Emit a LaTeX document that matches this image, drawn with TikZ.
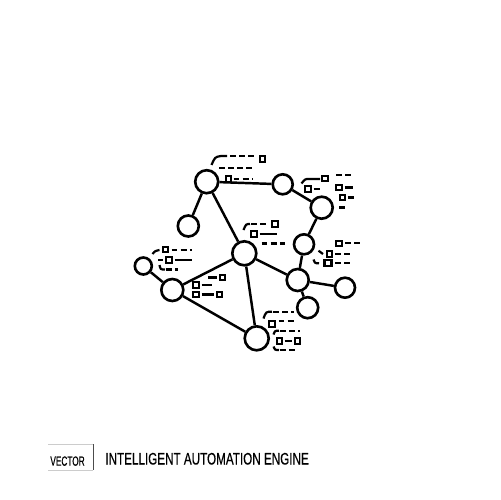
\documentclass[tikz,border=0pt]{standalone}
\usepackage{fontspec}
\usepackage{tikz}
\usetikzlibrary{positioning}
\newfontfamily\titlefont[FakeStretch=0.7,FakeBold=0.4]{Liberation Sans}
\newfontfamily\vecfont[FakeStretch=0.62,FakeBold=0.4]{Liberation Sans}
\tikzset{
  hub/.style= {
    circle,
    draw,
    fill = white,
    line width = 1.5pt,
    inner sep = 0pt,
    minimum size = #1
  },
  hub/.default = 0.44cm,
  link/.style= {
    line width = 1.4pt
  },
  tagline/.style= {
    line width = 1.25pt
  },
  tagdash/.style= {
    tagline,
    dash pattern = on 3.4pt off 1.8pt
  },
  tagsq/.pic = {
    \draw[line width=1.2pt] (-2.6,-2.6) rectangle (2.6,2.6);
  }
}

\begin{document}
\begin{tikzpicture}[x=0.02cm,y=-0.02cm]
  \useasboundingbox (0,0) rectangle (500,500);

  \node[hub=0.46cm] (a) at (206.7,181.7) {};
  \node[hub=0.42cm] (b) at (188.3,226) {};
  \node[hub=0.40cm] (c) at (282.7,184.3) {};
  \node[hub=0.44cm] (d) at (321.7,207.7) {};
  \node[hub=0.40cm] (e) at (304,244.3) {};
  \node[hub=0.48cm] (f) at (244.3,253.3) {};
  \node[hub=0.34cm] (g) at (143.3,266) {};
  \node[hub=0.44cm] (h) at (172.3,290) {};
  \node[hub=0.44cm] (i) at (297.7,280) {};
  \node[hub=0.40cm] (j) at (345,287.7) {};
  \node[hub=0.42cm] (k) at (307.7,307.7) {};
  \node[hub=0.48cm] (l) at (256.7,338.3) {};

  \draw[link] (a) -- (b);
  \draw[link] (a) -- (c);
  \draw[link] (c) -- (d);
  \draw[link] (d) -- (e);
  \draw[link] (e) -- (i);
  \draw[link] (a) -- (f);
  \draw[link] (f) -- (h);
  \draw[link] (f) -- (l);
  \draw[link] (f) -- (i);
  \draw[link] (g) -- (h);
  \draw[link] (h) -- (l);
  \draw[link] (i) -- (j);
  \draw[link] (i) -- (k);

  % tags near a
  \draw[tagline] (211.5,165) .. controls (215,157) .. (221,156) -- (227,156);
  \draw[tagdash] (230,156) -- (257,156);
  \pic at (262.5,159) {tagsq};
  \draw[tagdash] (219,168) -- (253,168);
  \pic at (228.5,179) {tagsq};
  \draw[tagdash] (233.5,179) -- (253,179);

  % tags near c and d
  \draw[tagline] (301.5,183.5) .. controls (305,179) .. (309,179) -- (320,179);
  \pic at (325,178.5) {tagsq};
  \draw[tagdash] (336,175) -- (354,175);
  \pic at (308,189) {tagsq};
  \draw[tagline] (313.5,189) -- (320,189);
  \pic at (339,187.5) {tagsq};
  \draw[tagline] (344.5,187.5) -- (353,187.5);
  \pic at (342.5,197.5) {tagsq};
  \draw[tagline] (348,197.5) -- (354,197.5);
  \draw[tagline] (339,207.5) -- (345,207.5);

  % tags near g
  \draw[tagline] (152.5,254) .. controls (155,251) .. (159.5,250);
  \pic at (165.5,249.7) {tagsq};
  \draw[tagdash] (171.5,249.7) -- (191.5,249.7);
  \draw[tagline] (158,260) -- (162.5,260);
  \pic at (169,260) {tagsq};
  \draw[tagline] (174.5,260) -- (192,260);
  \draw[tagline] (159.5,265) .. controls (160.5,269.5) .. (165,269.5);
  \draw[tagdash] (166,269.5) -- (178,269.5);

  % tags between h and f
  \draw[tagline] (208,277.5) -- (216.5,277.5);
  \pic at (222.5,277.5) {tagsq};
  \pic at (196,285) {tagsq};
  \draw[tagline] (201.5,285) -- (211.5,285);
  \pic at (196,294.5) {tagsq};
  \draw[tagline] (201.5,294.5) -- (213.5,294.5);
  \pic at (219.5,294.5) {tagsq};

  % tags near f
  \draw[tagline] (243.5,230) .. controls (246,224) .. (250,224);
  \draw[tagdash] (251,224) -- (269,224);
  \pic at (275,224) {tagsq};
  \pic at (254,234) {tagsq};
  \draw[tagline] (259.5,234) -- (276.5,234);
  \draw[tagdash] (261.5,243.5) -- (285,243.5);

  % tags near e
  \pic at (339,243.3) {tagsq};
  \draw[tagdash] (345,243.3) -- (363,243.3);
  \draw[tagline] (318.5,250.7) -- (323,254);
  \pic at (329.5,254) {tagsq};
  \draw[tagdash] (335,254) -- (352,254);
  \draw[tagline] (313.5,259.5) .. controls (315,263.3) .. (319,263.3);
  \draw[line width=1.2pt] (324.5,260) rectangle (331.5,266);
  \draw[tagdash] (335,263.3) -- (353,263.3);

  % tags near l
  \draw[tagline] (263.5,318.5) .. controls (266,311.7) .. (272,311.7);
  \draw[tagdash] (273,311.7) -- (293.5,311.7);
  \pic at (272,324) {tagsq};
  \draw[tagdash] (278.5,320.7) -- (293.5,320.7);
  \draw[tagline] (273.5,334.5) .. controls (275,330.7) .. (279,330.7);
  \draw[tagdash] (280,330.7) -- (300,330.7);
  \pic at (279.3,341) {tagsq};
  \draw[tagline] (284.5,341) -- (292,341);
  \pic at (297.5,341) {tagsq};
  \draw[tagline] (273.5,346.5) .. controls (275,350) .. (279,350);
  \draw[tagdash] (280,350) -- (298,350);

  % caption
  \draw[black!20,line width=0.5pt] (48,444.3) -- (93.3,444.3);
  \draw[black!20,line width=0.5pt] (48,470) -- (93.3,470);
  \draw[black!70,line width=0.6pt] (93.3,444.3) -- (93.3,470);
  \node[anchor=base west,inner sep=0pt,font=\vecfont\fontsize{7.6pt}{9pt}\selectfont] (vec) at (50,465.7) {VECTOR};
  \node[anchor=base west,inner sep=0pt,font=\titlefont\fontsize{9.5pt}{11pt}\selectfont] (title) at (105,464.5) {INTELLIGENT AUTOMATION ENGINE};
\end{tikzpicture}
\end{document}
